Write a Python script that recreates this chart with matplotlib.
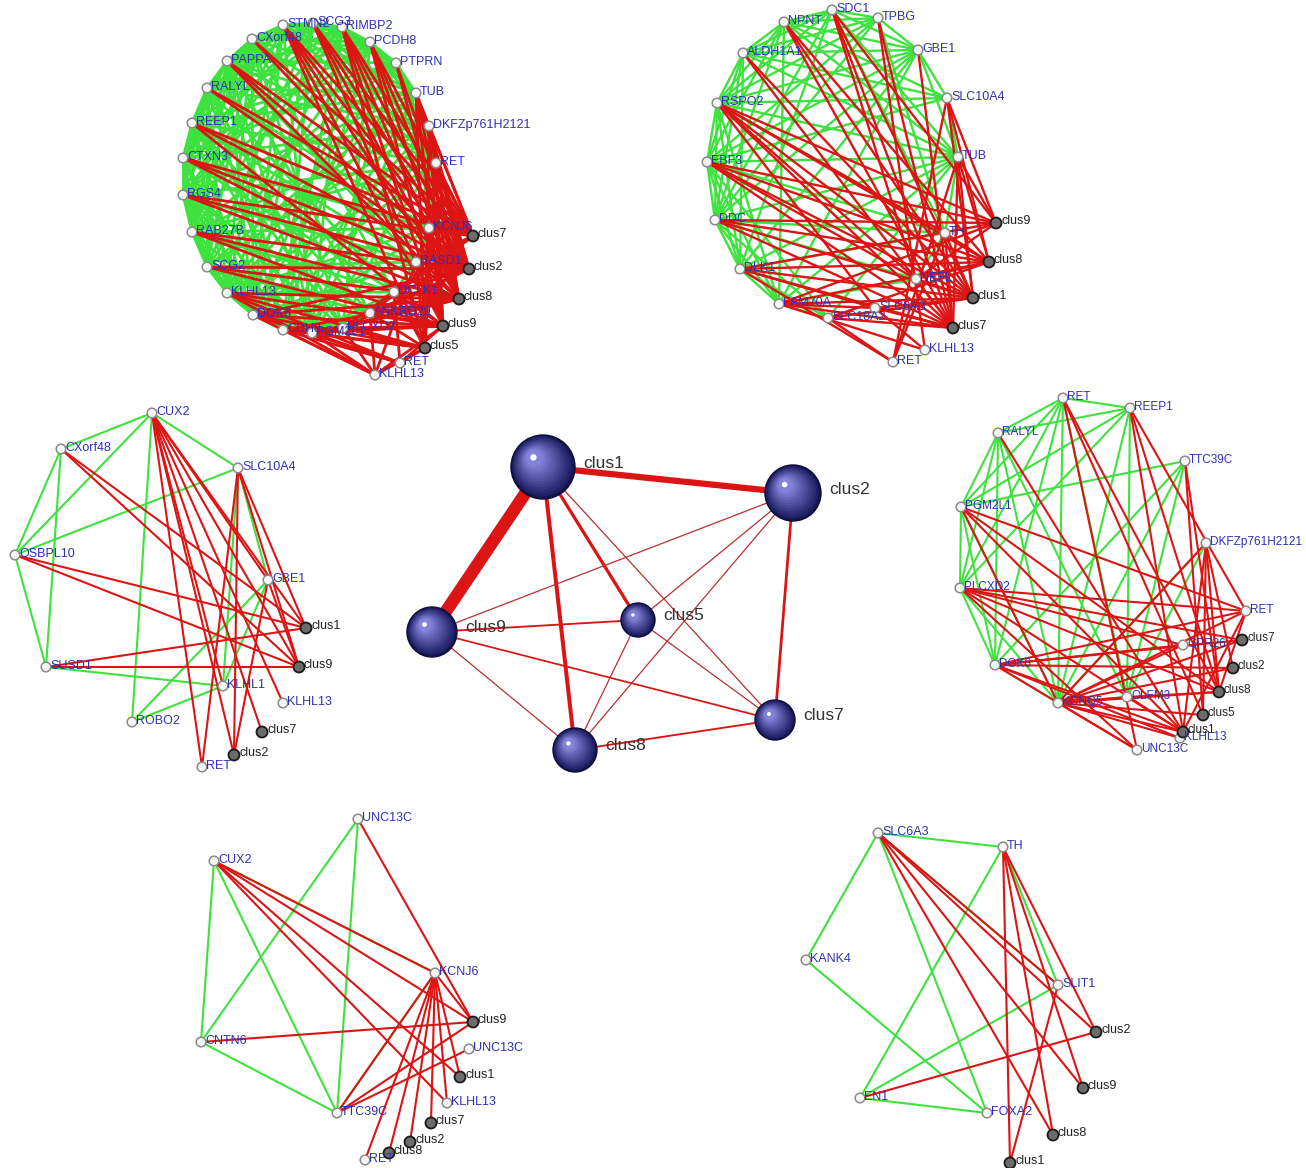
import matplotlib
matplotlib.use("Agg")
import matplotlib.pyplot as plt
from matplotlib.patches import Circle
from matplotlib.collections import LineCollection
import numpy as np

plt.rcParams['font.family'] = ['Liberation Sans', 'DejaVu Sans']

GREEN = '#3ee23e'
RED = '#dc1414'
GENE_TEXT = '#3030b4'
CLUS_TEXT = '#222222'

# ---------------- top-left panel ----------------
TL_NAMES = ["STMN2", "SCG3", "RIMBP2", "PCDH8", "PTPRN", "TUB", "DKFZp761H2121", "RET",
            "KCNJ6", "RASD1", "DCLK1", "ANKRD29", "PLCXD2", "PGM2L1", "CDH8", "DOK6",
            "KLHL13", "SCG2", "RAB27B", "RGS4", "CTXN3", "REEP1", "RALYL", "PAPPA", "CXorf48",
            "KLHL13#2", "RET#2", "clus7", "clus2", "clus8", "clus9", "clus5"]
TL_X = [283, 313, 342, 370, 396, 416, 429, 436, 429, 416, 394, 370, 343, 312, 283, 253,
        227, 207, 192, 183, 183, 192, 207, 227, 252, 375, 400, 473, 469, 459, 443, 425]
TL_Y = [25, 23, 27, 42, 63, 93, 126, 163, 228, 262, 292, 313, 328, 333, 330, 315,
        293, 267, 232, 195, 158, 123, 88, 61, 39, 375, 363, 236, 269, 299, 326, 348]
# upper-triangle adjacency of the 25 circle genes (green edges)
TL_GREEN_BITS = [
    "0111011100000101101011011",
    "0011101100000011010110110",
    "0001110100000110101101101",
    "0000111000001011010110111",
    "0000011100000101101011010",
    "0000001110000110110101101",
    "0000000110001011011010110",
    "0000000010000101101101011",
    "0000000001000010101010100",
    "0000000000100001010101010",
    "0000000000010100101010101",
    "0000000000001010010101010",
    "0000000000000111010101101",
    "0000000000000011101101011",
    "0000000000000001110110110",
    "0000000000000000111011011",
    "0000000000000000011101101",
    "0000000000000000001110111",
    "0000000000000000000111011",
    "0000000000000000000011101",
    "0000000000000000000001111",
    "0000000000000000000000111",
    "0000000000000000000000011",
    "0000000000000000000000001",
]
TL_RED = [
    "STMN2: clus7 clus2 clus8 clus9 clus5",
    "SCG3: clus7 clus2 clus8 clus9",
    "RIMBP2: clus7 clus2 clus8 clus9 clus5",
    "PCDH8: clus7 clus2 clus8 clus9",
    "PTPRN: clus2 clus8",
    "TUB: clus7 clus2 clus8 clus9 clus5",
    "DKFZp761H2121: clus7 clus2 clus8 clus9 clus5",
    "RET: clus7 clus2 clus8 clus9 clus5",
    "KCNJ6: clus7 clus2 clus8 clus9 clus5",
    "RASD1: clus7 clus2 clus8 clus9 clus5",
    "DCLK1: clus7 clus2 clus8 clus9 clus5",
    "ANKRD29: clus7 clus2 clus8 clus9 clus5",
    "PLCXD2: clus7 clus2 clus8 clus9 clus5",
    "PGM2L1: clus9 clus5 clus8",
    "CDH8: clus9 clus5 clus8",
    "DOK6: clus9 clus5 clus8 clus2",
    "KLHL13: clus8 clus9 clus5",
    "SCG2: clus8 clus9 clus2",
    "RAB27B: clus2 clus8 clus9",
    "RGS4: clus7 clus2 clus8",
    "CTXN3: clus7 clus2 clus8",
    "REEP1: clus7 clus2 clus9",
    "RALYL: clus7 clus2",
    "PAPPA: clus7 clus2 clus8",
    "CXorf48: clus7 clus2",
    "KLHL13#2: DOK6 CDH8 PGM2L1 KLHL13 clus9 clus5 RASD1 ANKRD29 PLCXD2",
    "RET#2: DOK6 CDH8 PGM2L1 clus5 clus9 DCLK1 KLHL13",
]

# ---------------- top-right panel ----------------
TR_NAMES = ["SDC1", "NPNT", "TPBG", "ALDH1A1", "GBE1", "SLC10A4", "RSPO2", "TUB", "EBF3",
            "DDC", "TH", "DLK1", "NEFL", "FAM70A", "SLC18A2", "SLC6A3", "KLHL13", "RET",
            "clus9", "clus8", "clus1", "clus7"]
TR_X = [832, 784, 878, 743, 918, 947, 717, 958, 707, 715, 945, 740, 916, 779, 828, 875,
        925, 893, 996, 989, 973, 953]
TR_Y = [10, 22, 18, 53, 50, 98, 103, 157, 162, 220, 233, 269, 279, 304, 318, 308,
        350, 362, 223, 262, 298, 328]
TR_GREEN = [
    "SDC1: NPNT TPBG ALDH1A1 RSPO2 GBE1 TUB DDC DLK1 TH",
    "NPNT: TPBG ALDH1A1 RSPO2 EBF3 DDC GBE1 SLC10A4 TUB FAM70A",
    "TPBG: GBE1 ALDH1A1 RSPO2 EBF3 TH DDC",
    "ALDH1A1: RSPO2 EBF3 DDC DLK1 GBE1 TUB SLC10A4",
    "GBE1: SLC10A4 TUB RSPO2 EBF3 DDC DLK1 FAM70A",
    "SLC10A4: RSPO2 TUB EBF3",
    "RSPO2: EBF3 DDC DLK1 FAM70A TUB TH",
    "TUB: EBF3 DDC DLK1 FAM70A TH SLC18A2",
    "EBF3: DDC DLK1 FAM70A SLC18A2 TH",
    "DDC: DLK1 FAM70A SLC18A2 TH NEFL",
    "DLK1: FAM70A SLC18A2 TH",
    "FAM70A: SLC18A2 NEFL",
    "TH: NEFL",
]
TR_RED = [
    "RSPO2: clus9 clus8 clus1 clus7 TH NEFL SLC6A3",
    "EBF3: clus9 clus8 clus1 clus7 NEFL",
    "DDC: clus9 clus8 clus1 clus7",
    "DLK1: clus9 clus8 clus1 clus7 SLC6A3",
    "FAM70A: clus9 clus8 clus1 clus7 SLC6A3",
    "SLC18A2: clus1 clus7 clus8 RET",
    "SLC6A3: clus7 clus1 KLHL13",
    "NPNT: clus7 clus1 clus8",
    "SDC1: clus7 clus1 clus9 NEFL",
    "TPBG: clus7 KLHL13",
    "ALDH1A1: clus7 clus1",
    "GBE1: clus7",
    "SLC10A4: clus9 clus8 clus1 RET",
    "TUB: clus9 clus8 clus1 clus7 RET",
    "TH: clus8 clus1 clus7 RET",
    "NEFL: clus7 clus9 clus8 clus1",
    "KLHL13: FAM70A",
    "RET: DLK1",
]

# ---------------- middle-left panel ----------------
ML_NAMES = ["CUX2", "CXorf48", "SLC10A4", "OSBPL10", "GBE1", "SUSD1", "KLHL1", "KLHL13",
            "ROBO2", "RET", "clus1", "clus9", "clus7", "clus2"]
ML_X = [152, 61, 238, 15, 268, 46, 223, 283, 132, 202, 306, 299, 262, 234]
ML_Y = [413, 449, 468, 555, 580, 667, 686, 703, 722, 767, 628, 667, 732, 755]
ML_GREEN = [
    "CUX2: CXorf48 OSBPL10 SLC10A4 ROBO2",
    "CXorf48: OSBPL10 SUSD1",
    "OSBPL10: SUSD1 SLC10A4",
    "SUSD1: KLHL1",
    "SLC10A4: KLHL1 GBE1",
    "GBE1: ROBO2 KLHL1",
    "ROBO2: KLHL1",
]
ML_RED = [
    "CUX2: clus1 clus9 KLHL13 clus7 clus2 RET GBE1 KLHL1",
    "CXorf48: clus1 clus9",
    "OSBPL10: clus1 clus9",
    "SUSD1: clus1 clus9",
    "SLC10A4: clus1 clus9 clus2 RET",
    "GBE1: clus2 clus9",
]

# ---------------- middle-right panel ----------------
MR_NAMES = ["RET", "REEP1", "RALYL", "TTC39C", "PGM2L1", "DKFZp761H2121", "PLCXD2", "RET#2",
            "GPR26", "DOK6", "OLFM3", "KCNQ5", "KLHL13", "UNC13C",
            "clus7", "clus2", "clus8", "clus5", "clus1"]
MR_X = [1063, 1130, 998, 1185, 961, 1206, 960, 1246, 1183, 995, 1127, 1058, 1180, 1137,
        1242, 1233, 1219, 1203, 1183]
MR_Y = [398, 408, 433, 461, 507, 543, 588, 611, 645, 665, 697, 703, 738, 750,
        640, 668, 692, 715, 732]
MR_GREEN = [
    "RET: REEP1 RALYL PGM2L1 PLCXD2 DOK6 KCNQ5 OLFM3",
    "REEP1: RALYL PGM2L1 PLCXD2 OLFM3 KCNQ5",
    "RALYL: PGM2L1 PLCXD2 DOK6 KCNQ5 OLFM3",
    "PGM2L1: PLCXD2 DOK6 KCNQ5 TTC39C",
    "PLCXD2: DOK6 KCNQ5",
    "TTC39C: KCNQ5 OLFM3 DOK6",
    "DKFZp761H2121: OLFM3 KCNQ5",
    "DOK6: KCNQ5",
    "KCNQ5: OLFM3",
]
MR_RED = [
    "RET: clus8 clus5 UNC13C",
    "REEP1: clus8 clus1 RET#2",
    "TTC39C: clus8 clus5",
    "RALYL: clus1",
    "PGM2L1: RET#2 clus1 clus8 KCNQ5",
    "PLCXD2: RET#2 clus7 clus8 clus1 UNC13C GPR26",
    "DKFZp761H2121: clus1 clus5 clus8 clus2 KCNQ5",
    "RET#2: DOK6 KCNQ5 clus8 clus1",
    "GPR26: KCNQ5 DOK6",
    "DOK6: clus2 clus7 clus1 UNC13C KLHL13",
    "KCNQ5: clus8 clus5 clus1 KLHL13 UNC13C OLFM3 clus7 clus2",
    "OLFM3: clus1 clus8",
]

# ---------------- bottom-left panel ----------------
BL_NAMES = ["UNC13C", "CUX2", "KCNJ6", "CNTN6", "UNC13C#2", "KLHL13", "TTC39C", "RET",
            "clus9", "clus1", "clus7", "clus2", "clus8"]
BL_X = [358, 214, 435, 201, 469, 447, 337, 365, 473, 460, 431, 410, 389]
BL_Y = [819, 861, 973, 1042, 1049, 1103, 1113, 1160, 1022, 1077, 1123, 1142, 1153]
BL_GREEN = [
    "CUX2: CNTN6 TTC39C KCNJ6",
    "UNC13C: CNTN6 TTC39C",
    "CNTN6: TTC39C",
    "KCNJ6: TTC39C",
]
BL_RED = [
    "CUX2: KCNJ6 clus9 clus1 KLHL13",
    "UNC13C: clus9",
    "CNTN6: clus9",
    "KCNJ6: clus9 clus1 KLHL13 clus7 clus2 clus8 RET TTC39C",
    "TTC39C: clus9 UNC13C#2",
]

# ---------------- bottom-right panel ----------------
BR_NAMES = ["SLC6A3", "TH", "KANK4", "SLIT1", "EN1", "FOXA2",
            "clus2", "clus9", "clus8", "clus1"]
BR_X = [878, 1003, 806, 1058, 860, 987, 1096, 1083, 1053, 1010]
BR_Y = [833, 847, 960, 985, 1098, 1113, 1032, 1088, 1135, 1163]
BR_GREEN = [
    "SLC6A3: TH KANK4 FOXA2 SLIT1",
    "TH: EN1 SLIT1",
    "KANK4: FOXA2",
    "EN1: FOXA2 SLIT1",
]
BR_RED = [
    "SLC6A3: clus2 clus9 clus8 SLIT1",
    "TH: clus1 clus2 clus9 clus8",
    "EN1: clus2",
    "SLIT1: clus1",
]

# ---------------- centre: cluster network ----------------
C_NAMES = ["clus1", "clus2", "clus9", "clus5", "clus7", "clus8"]
C_X = [543, 793, 432, 638, 775, 575]
C_Y = [467, 493, 632, 620, 720, 750]
C_SIZE = [32, 28, 25, 17, 20, 22]
C_EDGES = [("clus1", "clus9", 10), ("clus1", "clus2", 5), ("clus1", "clus8", 3.2),
           ("clus1", "clus5", 2.6), ("clus2", "clus7", 2.2), ("clus1", "clus7", 1),
           ("clus2", "clus9", 1), ("clus2", "clus5", 1), ("clus2", "clus8", 1),
           ("clus9", "clus5", 1.5), ("clus9", "clus7", 1.4), ("clus9", "clus8", 1),
           ("clus5", "clus8", 1), ("clus5", "clus7", 1), ("clus8", "clus7", 1.5)]


def parse(lines):
    pairs = []
    for line in lines:
        a, rest = line.split(':')
        for b in rest.split():
            pairs.append((a.strip(), b))
    return pairs


def bits_to_pairs(names, rows):
    pairs = []
    for i, row in enumerate(rows):
        for j, c in enumerate(row):
            if c == '1' and j > i:
                pairs.append((names[i], names[j]))
    return pairs


def draw_panel(ax, names, xs, ys, green, red, lw=1.6, fs=9):
    pos = dict(zip(names, zip(xs, ys)))
    segs = [[pos[a], pos[b]] for a, b in green]
    ax.add_collection(LineCollection(segs, colors=GREEN, linewidths=lw, zorder=1))
    segs = [[pos[a], pos[b]] for a, b in red]
    ax.add_collection(LineCollection(segs, colors=RED, linewidths=lw, zorder=2))
    for n in names:
        x, y = pos[n]
        label = n.split('#')[0]
        if n.startswith('clus'):
            ax.add_patch(Circle((x, y), 5.5, facecolor='#6c6c6c', edgecolor='#1a1a1a',
                                lw=1.3, zorder=3))
            ax.text(x + 5, y - 2, label, fontsize=fs, color=CLUS_TEXT, va='center',
                    ha='left', zorder=4)
        else:
            ax.add_patch(Circle((x, y), 4.8, facecolor='#f6f6f6', edgecolor='#8a8a8a',
                                lw=1.1, zorder=3))
            ax.text(x + 4, y - 1, label, fontsize=fs, color=GENE_TEXT, va='center',
                    ha='left', zorder=4)


def sphere(ax, x, y, r):
    dark = np.array([0.09, 0.09, 0.36])
    light = np.array([0.55, 0.55, 0.90])
    n = 12
    ax.add_patch(Circle((x, y), r, facecolor='#15154f', edgecolor='#0d0d3a', lw=1, zorder=5))
    for k in range(1, n):
        f = k / n
        col = dark + (light - dark) * f
        ax.add_patch(Circle((x - 0.3 * r * f, y - 0.3 * r * f), r * (1 - 0.8 * f),
                            facecolor=col, edgecolor='none', zorder=5))
    ax.add_patch(Circle((x - 0.3 * r, y - 0.3 * r), r * 0.1, facecolor='white',
                        edgecolor='none', zorder=6))


fig = plt.figure(figsize=(13.06, 11.68), dpi=100)
ax = fig.add_axes([0, 0, 1, 1])
ax.set_xlim(0, 1306)
ax.set_ylim(1168, 0)
ax.axis('off')

draw_panel(ax, TL_NAMES, TL_X, TL_Y, bits_to_pairs(TL_NAMES, TL_GREEN_BITS), parse(TL_RED), lw=2.0)
draw_panel(ax, TR_NAMES, TR_X, TR_Y, parse(TR_GREEN), parse(TR_RED), lw=1.7)
draw_panel(ax, ML_NAMES, ML_X, ML_Y, parse(ML_GREEN), parse(ML_RED), lw=1.5)
draw_panel(ax, MR_NAMES, MR_X, MR_Y, parse(MR_GREEN), parse(MR_RED), lw=1.5, fs=8.5)
draw_panel(ax, BL_NAMES, BL_X, BL_Y, parse(BL_GREEN), parse(BL_RED), lw=1.5)
draw_panel(ax, BR_NAMES, BR_X, BR_Y, parse(BR_GREEN), parse(BR_RED), lw=1.5)

cpos = dict(zip(C_NAMES, zip(C_X, C_Y)))
for a, b, w in C_EDGES:
    col = RED if w >= 1.4 else '#b83030'
    ax.plot([cpos[a][0], cpos[b][0]], [cpos[a][1], cpos[b][1]], color=col,
            lw=w * 0.9, zorder=4, solid_capstyle='butt')
for n, x, y, r in zip(C_NAMES, C_X, C_Y, C_SIZE):
    sphere(ax, x, y, r)
    ax.text(x + r + 8, y - 4, n, fontsize=12.5, color='#333333', va='center',
            ha='left', zorder=7)

fig.savefig('out.png', dpi=100, facecolor='white')
